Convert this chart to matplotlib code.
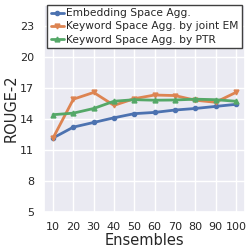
import matplotlib
matplotlib.use("Agg")
import matplotlib.pyplot as plt
import seaborn as sns

sns.set_theme(style="darkgrid")

# data
ensembles = [10, 20, 30, 40, 50, 60, 70, 80, 90, 100]
embedding = [12.15, 13.2, 13.65, 14.1, 14.5, 14.62, 14.85, 15.0, 15.2, 15.4]
joint_em = [12.15, 15.9, 16.55, 15.3, 15.95, 16.3, 16.25, 15.8, 15.6, 16.55]
ptr = [14.4, 14.55, 15.0, 15.7, 15.85, 15.8, 15.82, 15.9, 15.85, 15.7]
labels = ["Embedding Space Agg.", "Keyword Space Agg. by joint EM", "Keyword Space Agg. by PTR"]
yticks = [5, 8, 11, 14, 17, 20, 23]

fig = plt.figure(figsize=(2.51, 2.52), dpi=100)
ax = fig.add_axes([0.175, 0.159, 0.801, 0.821])

pal = sns.color_palette()
ax.plot(ensembles, embedding, marker="o", ms=3, lw=2, color=pal[0], label=labels[0])
ax.plot(ensembles, joint_em, marker="v", ms=3.5, lw=2, color=pal[1], label=labels[1])
ax.plot(ensembles, ptr, marker="^", ms=3.5, lw=2, color=pal[2], label=labels[2])

ax.set_ylim(5, 25)
ax.set_yticks(yticks)
ax.set_xticks(ensembles)
ax.tick_params(labelsize=8, pad=1)
ax.set_xlabel("Ensembles", fontsize=10.5, labelpad=1)
ax.set_ylabel("ROUGE-2", fontsize=10.5, labelpad=1)

leg = ax.legend(loc="upper center", fontsize=7.7, handlelength=1.3, borderpad=0.3,
                labelspacing=0.3, handletextpad=0.15, borderaxespad=0.0,
                frameon=True, fancybox=False)
leg.get_frame().set_edgecolor("0.25")
leg.get_frame().set_facecolor("white")
leg.get_frame().set_alpha(1.0)

fig.savefig("out.png", dpi=100)
